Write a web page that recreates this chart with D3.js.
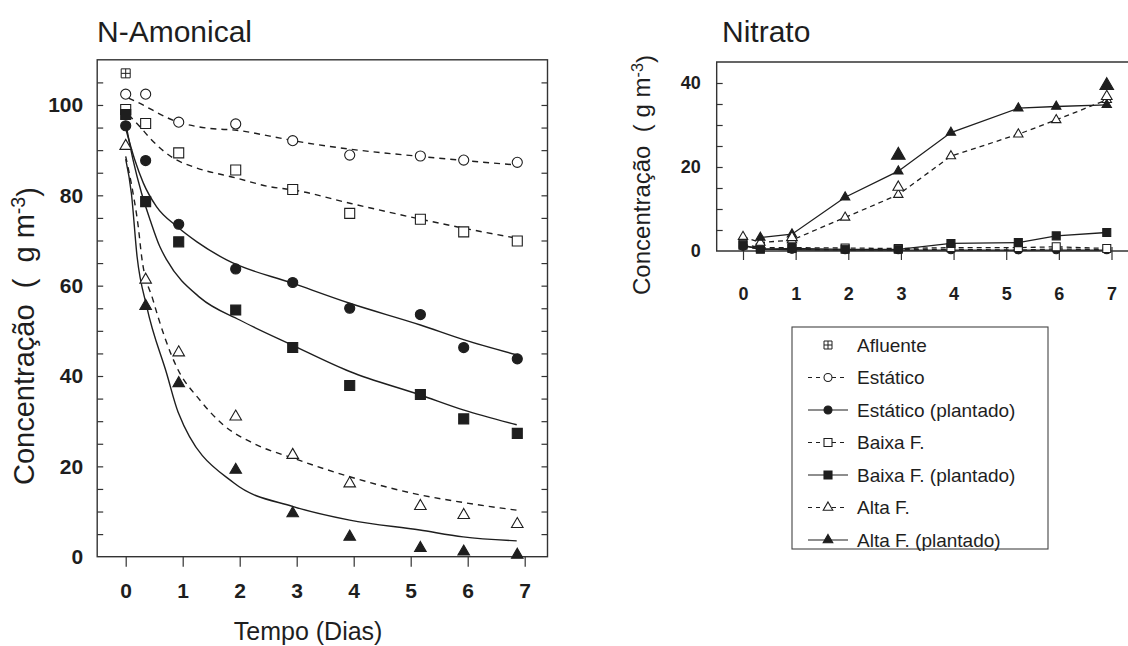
<!DOCTYPE html>
<html>
<head>
<meta charset="utf-8">
<script src="https://cdn.jsdelivr.net/npm/d3@7"></script>
<style>
  body { margin: 0; background: #fff; }
  svg { display: block; font-family: "Liberation Sans", Arial, sans-serif; }
</style>
</head>
<body>
<svg id="chart" width="1128" height="646"></svg>
<script>
// ---------- N-Amonical: measured points ----------
const ammoniaDays = [0, 0.35, 0.93, 1.93, 2.93, 3.93, 5.17, 5.93, 6.87];
const ammoniaInfluentDays = [0];
const ammoniaInfluent = [107];
const ammoniaStatic = [102.4, 102.4, 96.2, 95.8, 92.1, 88.9, 88.7, 87.8, 87.3];
const ammoniaStaticPlanted = [95.4, 87.7, 73.6, 63.7, 60.7, 55.0, 53.6, 46.3, 43.8];
const ammoniaLow = [99.0, 95.9, 89.4, 85.6, 81.3, 76.0, 74.7, 71.9, 69.9];
const ammoniaLowPlanted = [97.9, 78.6, 69.7, 54.6, 46.3, 37.9, 35.9, 30.5, 27.3];
const ammoniaHigh = [90.9, 61.3, 45.2, 31.0, 22.5, 16.2, 11.2, 9.2, 7.2];
const ammoniaHighPlanted = [null, 55.5, 38.4, 19.2, 9.6, 4.4, 1.9, 1.1, 0.4];

// ---------- N-Amonical: fitted decay curves [day, value] ----------
const fitStatic = [[0.05, 101.5], [0.19, 100.7], [0.9, 96.3], [1.48, 94.8], [1.95, 94.4], [2.53, 93.1],
  [2.94, 92.1], [3.95, 90.2], [5.18, 88.6], [5.94, 87.7], [6.86, 86.7]];
const fitStaticPlanted = [[0, 94.8], [0.16, 87.8], [0.31, 82.7], [0.54, 77.5], [0.9, 73.1], [1.25, 69.7],
  [1.77, 65.7], [2.94, 60.5], [3.93, 56.1], [5.17, 51.3], [5.94, 48.0], [6.86, 44.7]];
const fitLow = [[0.05, 97.8], [0.25, 95.2], [0.43, 92.6], [0.84, 88.2], [1.19, 86.3], [1.95, 83.8],
  [2.53, 81.9], [2.94, 81.2], [3.95, 78.2], [5.18, 74.7], [5.94, 72.7], [6.86, 70.5]];
const fitLowPlanted = [[0, 96.0], [0.13, 87.8], [0.28, 80.4], [0.43, 74.5], [0.6, 68.6], [0.72, 65.7],
  [1.31, 57.3], [2.0, 52.4], [2.93, 46.8], [3.93, 41.0], [5.17, 35.8], [5.92, 32.5], [6.86, 29.2]];
const fitHigh = [[0, 88.6], [0.13, 80.4], [0.22, 73.1], [0.28, 66.4], [0.48, 56.8], [0.89, 42.1],
  [1.3, 34.7], [1.71, 29.2], [2.24, 25.1], [2.94, 21.8], [3.93, 17.7], [5.16, 13.7], [5.92, 12.0], [6.86, 10.3]];
const fitHighPlanted = [[0, 88.0], [0.1, 80.4], [0.2, 66.4], [0.37, 55.3], [0.72, 40.5], [0.92, 32.0],
  [1.9, 16.3], [2.94, 11.1], [3.93, 8.1], [5.16, 5.9], [5.92, 4.4], [6.86, 3.5]];

// ---------- Nitrato ----------
const nitrateDays = [0, 0.33, 0.93, 1.94, 2.95, 3.95, 5.23, 5.95, 6.91];
const nitrateStatic = [1.0, 0.5, 0.4, 0.3, 0.3, 0.4, 0.2, 0.5, 0.3];
const nitrateStaticPlanted = [1.2, 0.5, 0.3, 0.2, 0.2, 0.2, 0.2, 0.2, 0.2];
const nitrateLow = [1.6, 0.8, 0.8, 0.7, 0.6, 0.8, 0.8, 1.0, 0.6];
const nitrateLowPlanted = [1.4, 0.4, 0.6, 0.4, 0.4, 1.8, 2.0, 3.6, 4.4];
const nitrateHigh = [3.4, 2.0, 2.6, 8.0, 13.4, 22.6, 27.8, 31.2, 36.0];
const nitrateHighPlanted = [null, 3.2, 4.0, 12.8, 19.0, 28.2, 34.0, 34.4, 34.8];
// replicate readings shown as markers only
const nitrateHighExtraDays = [0.93, 2.95, 6.91];
const nitrateHighExtra = [3.2, 15.2, 36.8];
const nitrateHighPlantedExtraDays = [2.95, 6.91];
const nitrateHighPlantedExtra = [22.8, 39.4];

// ---------- ticks and labels ----------
const dayTicks = [0, 1, 2, 3, 4, 5, 6, 7];
const ammoniaTickLabels = [0, 20, 40, 60, 80, 100];
const nitrateTickLabels = [0, 20, 40];
const legendLabels = ["Afluente", "Estático", "Estático (plantado)", "Baixa F.", "Baixa F. (plantado)", "Alta F.", "Alta F. (plantado)"];

const INK = "#1e1e1e";
const svg = d3.select("#chart");
const intFmt = d3.format("d");

const shapes = { circle: d3.symbolCircle, square: d3.symbolSquare, triangle: d3.symbolTriangle };

function marker(g, shape, filled, x, y, size) {
  g.append("path")
    .attr("d", d3.symbol().type(shapes[shape]).size(size)())
    .attr("transform", `translate(${x},${y})`)
    .attr("fill", filled ? INK : "#fff")
    .attr("stroke", INK)
    .attr("stroke-width", 1.1);
}

function influentMarker(g, x, y, s) {
  const h = s / 2;
  g.append("path")
    .attr("d", `M${x - h},${y - h}h${s}v${s}h${-s}Z M${x},${y - h}v${s} M${x - h},${y}h${s}`)
    .attr("fill", "#fff").attr("stroke", INK).attr("stroke-width", 1);
}

const markerSizeL = { circle: 80, square: 100, triangle: 58 };
const markerSizeR = { circle: 40, square: 64, triangle: 38 };

function styleAxis(sel) {
  sel.select(".domain").remove();
  sel.selectAll(".tick line").attr("stroke", "#333").attr("stroke-width", 1.2);
}
function styleLabels(sel, size) {
  sel.selectAll("text").attr("font-size", size).attr("font-weight", "bold").attr("fill", INK)
    .attr("font-family", "Liberation Sans, Arial, sans-serif");
}

// ================= N-Amonical panel =================
const xA = d3.scaleLinear().domain([0, 7]).range([125.7, 524.7]);
const yA = d3.scaleLinear().domain([0, 110]).range([556.7, 59.8]);
const gA = svg.append("g");

gA.append("rect")
  .attr("x", xA(-0.5)).attr("y", yA(110))
  .attr("width", xA(7.4) - xA(-0.5)).attr("height", yA(0) - yA(110))
  .attr("fill", "none").attr("stroke", "#333").attr("stroke-width", 1.4);

gA.append("g").attr("transform", `translate(${xA(-0.5)},0)`)
  .call(d3.axisRight(yA).tickValues(d3.range(5, 110, 5)).tickSize(6).tickFormat(""))
  .call(styleAxis);
gA.append("g").attr("transform", `translate(${xA(7.4)},0)`)
  .call(d3.axisLeft(yA).tickValues(d3.range(5, 110, 5)).tickSize(6).tickFormat(""))
  .call(styleAxis);
gA.append("g").attr("transform", `translate(${xA(-0.5)},0)`)
  .call(d3.axisLeft(yA).tickValues(ammoniaTickLabels).tickFormat(intFmt).tickSize(0).tickPadding(14))
  .call(styleAxis)
  .call(styleLabels, 21);
gA.append("g").attr("transform", `translate(0,${yA(0)})`)
  .call(d3.axisBottom(xA).tickValues(dayTicks).tickFormat(intFmt).tickSize(10).tickPadding(16))
  .call(styleAxis)
  .call(styleLabels, 21);

const fitLine = d3.line().x(d => xA(d[0])).y(d => yA(d[1])).curve(d3.curveMonotoneX);
const ammoniaSeries = [
  { vals: ammoniaStatic, fit: fitStatic, shape: "circle", filled: false },
  { vals: ammoniaStaticPlanted, fit: fitStaticPlanted, shape: "circle", filled: true },
  { vals: ammoniaLow, fit: fitLow, shape: "square", filled: false },
  { vals: ammoniaLowPlanted, fit: fitLowPlanted, shape: "square", filled: true },
  { vals: ammoniaHigh, fit: fitHigh, shape: "triangle", filled: false },
  { vals: ammoniaHighPlanted, fit: fitHighPlanted, shape: "triangle", filled: true }
];
ammoniaSeries.forEach(s => {
  gA.append("path").attr("d", fitLine(s.fit))
    .attr("fill", "none").attr("stroke", INK).attr("stroke-width", 1.4)
    .attr("stroke-dasharray", s.filled ? null : "6,5");
});
ammoniaSeries.forEach(s => {
  s.vals.forEach((v, i) => {
    if (v == null) return;
    marker(gA, s.shape, s.filled, xA(ammoniaDays[i]), yA(v), markerSizeL[s.shape]);
  });
});
ammoniaInfluent.forEach((v, i) => influentMarker(gA, xA(ammoniaInfluentDays[i]), yA(v), 9));

// titles and axis labels
svg.append("text").attr("x", 97).attr("y", 42).attr("font-size", 30).attr("fill", INK).text("N-Amonical");
svg.append("text").attr("x", xA(3.2)).attr("y", 640).attr("text-anchor", "middle")
  .attr("font-size", 25).attr("fill", INK).text("Tempo (Dias)");

function concLabel(x, y, size, head) {
  const t = svg.append("text")
    .attr("transform", `translate(${x},${y}) rotate(-90)`)
    .attr("text-anchor", "middle").attr("font-size", size).attr("fill", INK)
    .style("white-space", "pre");
  t.append("tspan").text(head);
  t.append("tspan").attr("dy", "-0.45em").attr("font-size", size * 0.68).text("-3");
  t.append("tspan").attr("dy", "0.45em").text(")");
}
concLabel(34, 336, 29, "Concentração  (  g m");

// ================= Nitrato panel =================
const xN = d3.scaleLinear().domain([0, 7]).range([743, 1111.5]);
const yN = d3.scaleLinear().domain([0, 45]).range([251, 62]);
const gN = svg.append("g");

gN.append("path")
  .attr("d", `M1130,${yN(45)}H${xN(-0.5)}V${yN(0)}H1130`)
  .attr("fill", "none").attr("stroke", "#333").attr("stroke-width", 1.4);

gN.append("g").attr("transform", `translate(${xN(-0.5)},0)`)
  .call(d3.axisRight(yN).tickValues(d3.range(5, 45, 5)).tickSize(6).tickFormat(""))
  .call(styleAxis);
gN.append("g").attr("transform", `translate(${xN(-0.5)},0)`)
  .call(d3.axisLeft(yN).tickValues(nitrateTickLabels).tickFormat(intFmt).tickSize(0).tickPadding(16))
  .call(styleAxis)
  .call(styleLabels, 18);
gN.append("g").attr("transform", `translate(0,${yN(0)})`)
  .call(d3.axisTop(xN).tickValues(dayTicks).tickSize(4).tickFormat(""))
  .call(styleAxis);
gN.append("g").attr("transform", `translate(0,${yN(0)})`)
  .call(d3.axisBottom(xN).tickValues(dayTicks).tickFormat(intFmt).tickSize(9).tickPadding(27))
  .call(styleAxis)
  .call(styleLabels, 18);

const polyline = d3.line().x(d => xN(d[0])).y(d => yN(d[1]));
const nitrateSeries = [
  { vals: nitrateStatic, shape: "circle", filled: false },
  { vals: nitrateStaticPlanted, shape: "circle", filled: true },
  { vals: nitrateLow, shape: "square", filled: false },
  { vals: nitrateLowPlanted, shape: "square", filled: true },
  { vals: nitrateHigh, shape: "triangle", filled: false },
  { vals: nitrateHighPlanted, shape: "triangle", filled: true }
];
nitrateSeries.forEach(s => {
  const pts = nitrateDays.map((d, i) => [d, s.vals[i]]).filter(p => p[1] != null);
  gN.append("path").attr("d", polyline(pts))
    .attr("fill", "none").attr("stroke", INK).attr("stroke-width", 1.3)
    .attr("stroke-dasharray", s.filled ? null : "5,4");
});
nitrateSeries.forEach(s => {
  s.vals.forEach((v, i) => {
    if (v == null) return;
    marker(gN, s.shape, s.filled, xN(nitrateDays[i]), yN(v), markerSizeR[s.shape]);
  });
});
nitrateHighExtra.forEach((v, i) => marker(gN, "triangle", false, xN(nitrateHighExtraDays[i]), yN(v), 50));
nitrateHighPlantedExtra.forEach((v, i) => marker(gN, "triangle", true, xN(nitrateHighPlantedExtraDays[i]), yN(v), 80));

svg.append("text").attr("x", 722).attr("y", 42).attr("font-size", 30).attr("fill", INK).text("Nitrato");
concLabel(650, 175, 24, "Concentração  ( g m");

// ================= Legend =================
const gL = svg.append("g");
gL.append("rect").attr("x", 792).attr("y", 327).attr("width", 256).attr("height", 222)
  .attr("fill", "#fff").attr("stroke", "#444").attr("stroke-width", 1.1);
const legendKeys = [
  { shape: "influent" },
  { shape: "circle", filled: false },
  { shape: "circle", filled: true },
  { shape: "square", filled: false },
  { shape: "square", filled: true },
  { shape: "triangle", filled: false },
  { shape: "triangle", filled: true }
];
legendLabels.forEach((label, i) => {
  const y = 345 + i * 32.5;
  const k = legendKeys[i];
  if (k.shape === "influent") {
    influentMarker(gL, 828, y, 8);
  } else {
    gL.append("line").attr("x1", 808).attr("x2", 848).attr("y1", y).attr("y2", y)
      .attr("stroke", INK).attr("stroke-width", 1.2)
      .attr("stroke-dasharray", k.filled ? null : "4,4");
    marker(gL, k.shape, k.filled, 828, y, k.shape === "triangle" ? 40 : (k.shape === "circle" ? 50 : 64));
  }
  gL.append("text").attr("x", 857).attr("y", y).attr("dy", "0.35em")
    .attr("font-size", 19).attr("fill", INK).text(label);
});
</script>
</body>
</html>
